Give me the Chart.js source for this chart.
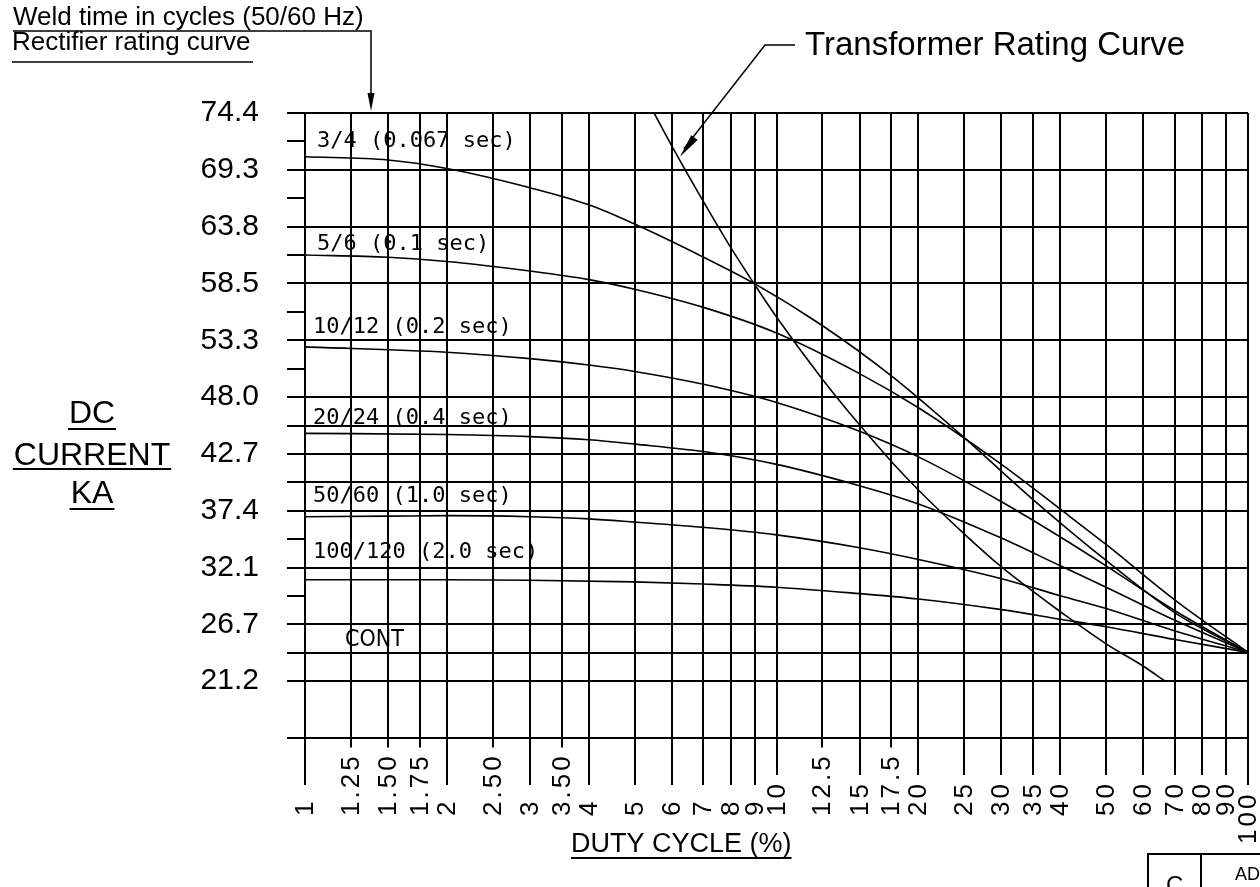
<!DOCTYPE html>
<html><head><meta charset="utf-8">
<script src="https://cdn.jsdelivr.net/npm/chart.js@4.4.0/dist/chart.umd.min.js"></script>
<style>html,body{margin:0;padding:0;background:#fff;} canvas{display:block;}</style>
</head><body>
<canvas id="c" width="1260" height="887"></canvas>
<script>
// ---- axis data ----
const xTicks = [1,1.25,1.5,1.75,2,2.5,3,3.5,4,5,6,7,8,9,10,12.5,15,17.5,20,25,30,35,40,50,60,70,80,90,100];
const xTickLabels = ['1','1.25','1.50','1.75','2','2.50','3','3.50','4','5','6','7','8','9','10','12.5','15','17.5','20','25','30','35','40','50','60','70','80','90','100'];
const yTickLabels = ['74.4','69.3','63.8','58.5','53.3','48.0','42.7','37.4','32.1','26.7','21.2'];
const yTop = 74.4;
const yHalfStep = 2.66;
const yFullMidlines = [11, 13, 19];   // half-step lines that cross the grid
const yNoTick = [21];

// ---- series (duty cycle %, DC current kA) ----
const seriesLabels = ['3/4 (0.067 sec)','5/6 (0.1 sec)','10/12 (0.2 sec)','20/24 (0.4 sec)','50/60 (1.0 sec)','100/120 (2.0 sec)'];
const duty34 = [1,1.5,2,3,4,5,7,9,12.5,17.5,25,35,50,70,100];
const amps34 = [70.3,70.0,69.2,67.4,65.8,64.0,60.9,58.4,54.5,49.8,44.0,38.2,32.5,27.6,23.9];
const duty56 = [1,1.5,2,3,4,5,7,10,15,20,30,40,50,70,100];
const amps56 = [61.1,60.9,60.5,59.6,58.8,57.9,56.2,53.8,50.0,46.8,41.5,37.3,34.0,28.8,23.9];
const duty1012 = [1,2,3,4,5,7,10,15,20,30,40,50,70,100];
const amps1012 = [52.5,52.0,51.4,50.8,50.2,49.0,47.3,44.6,42.2,38.0,34.7,32.0,27.8,23.9];
const duty2024 = [1,2,3,4,5,7,10,15,20,30,40,50,70,100];
const amps2024 = [44.4,44.3,44.1,43.8,43.4,42.7,41.5,39.5,37.8,34.6,32.0,30.0,26.9,23.9];
const duty5060 = [1,1.5,2,3,4,5,7,10,15,20,30,40,50,70,100];
const amps5060 = [36.6,36.65,36.7,36.6,36.4,36.1,35.6,34.9,33.7,32.6,30.8,29.2,28.0,25.9,23.9];
const duty100120 = [1,2,3,5,7,10,15,20,30,40,50,70,100];
const amps100120 = [30.7,30.7,30.65,30.5,30.3,30.0,29.4,28.9,27.9,27.0,26.3,25.1,23.9];
const dutyTR = [5.5,6,7,8,9,10,12.5,15,17.5,20,25,30,35,40,50,60,66.7];
const ampsTR = [74.4,71.3,66.1,61.8,58.3,55.3,49.5,45.2,41.8,39.1,35.0,31.9,29.6,27.7,24.7,22.6,21.2];

const ink = '#000';
const yBottom = yTop - 22 * yHalfStep;
const kOf = v => Math.round((yTop - v) / yHalfStep);
const pts = (d, a) => d.map((x, i) => ({x, y: a[i]}));

const curves = [[duty34,amps34],[duty56,amps56],[duty1012,amps1012],[duty2024,amps2024],[duty5060,amps5060],[duty100120,amps100120],[dutyTR,ampsTR]];
const datasets = curves.map((c, i) => ({
  label: i < seriesLabels.length ? seriesLabels[i] : 'Transformer Rating Curve',
  data: pts(c[0], c[1]),
  borderColor: ink, borderWidth: 1.6, pointRadius: 0, fill: false,
  cubicInterpolationMode: 'monotone'
}));

const sans = '"Liberation Sans", Arial, sans-serif';
function underline(ctx, x1, x2, y) {
  ctx.beginPath(); ctx.moveTo(x1, y); ctx.lineTo(x2, y); ctx.stroke();
}
function arrowHead(ctx, fx, fy, tx, ty, len, half) {
  const a = Math.atan2(ty - fy, tx - fx);
  ctx.beginPath();
  ctx.moveTo(tx, ty);
  ctx.lineTo(tx - len * Math.cos(a) + half * Math.sin(a), ty - len * Math.sin(a) - half * Math.cos(a));
  ctx.lineTo(tx - len * Math.cos(a) - half * Math.sin(a), ty - len * Math.sin(a) + half * Math.cos(a));
  ctx.closePath(); ctx.fill();
}

const overlay = {
  id: 'overlay',
  afterDraw(chart) {
    const ctx = chart.ctx, xs = chart.scales.x, ys = chart.scales.y, area = chart.chartArea;
    ctx.save();
    ctx.fillStyle = ink; ctx.strokeStyle = ink; ctx.lineWidth = 2;

    // x tick labels (rotated, reading upward)
    ctx.font = '26px ' + sans;
    ctx.letterSpacing = '3px';
    xTicks.forEach((v, i) => {
      const base = i === xTicks.length - 1 ? 844 : 816;
      const px = Math.round(xs.getPixelForValue(v));
      const w = ctx.measureText(xTickLabels[i]).width;
      const end = Math.min(785, base - w - 6);
      ctx.beginPath(); ctx.moveTo(px, area.bottom); ctx.lineTo(px, end); ctx.stroke();
      ctx.save(); ctx.translate(px, base); ctx.rotate(-Math.PI / 2);
      ctx.textAlign = 'left'; ctx.textBaseline = 'middle';
      ctx.fillText(xTickLabels[i], 0, 1);
      ctx.restore();
    });
    ctx.letterSpacing = '0px';

    // curve labels
    ctx.textAlign = 'left'; ctx.textBaseline = 'alphabetic';
    ctx.font = '22px "DejaVu Sans Mono", monospace';
    const lx = area.left + 10;
    const labelY = [147, 250, 333, 424, 502, 558];
    seriesLabels.forEach((t, i) => ctx.fillText(t, lx + 2 - (i > 1 ? 4 : 0), labelY[i]));
    ctx.font = '23px "Liberation Sans Narrow", "DejaVu Sans Condensed", sans-serif';
    ctx.fillText('CONT', 345, 646);

    // header texts
    ctx.font = '26px ' + sans;
    ctx.fillText('Weld time in cycles (50/60 Hz)', 13, 25);
    ctx.fillText('Rectifier rating curve', 12, 50);
    ctx.lineWidth = 1.5;
    ctx.beginPath(); ctx.moveTo(13, 31); ctx.lineTo(371, 31); ctx.lineTo(371, 96); ctx.stroke();
    arrowHead(ctx, 371, 31, 371, 111, 18, 3.5);
    underline(ctx, 12, 253, 62);

    // transformer label + leader arrow
    ctx.font = '33px ' + sans;
    ctx.fillText('Transformer Rating Curve', 805, 55);
    const tipX = xs.getPixelForValue(6.24), tipY = ys.getPixelForValue(70.3);
    ctx.beginPath(); ctx.moveTo(795, 45); ctx.lineTo(765, 45); ctx.lineTo(tipX + 4, tipY - 8); ctx.stroke();
    arrowHead(ctx, 765, 45, tipX, tipY, 24, 4);

    // y title
    ctx.font = '32px ' + sans; ctx.textAlign = 'center'; ctx.lineWidth = 2;
    const tx = 92;
    [['DC', 423, 429], ['CURRENT', 465, 469], ['KA', 503, 509]].forEach(([t, b, u]) => {
      ctx.fillText(t, tx, b);
      const w = ctx.measureText(t).width;
      underline(ctx, tx - w / 2 - 1, tx + w / 2 + 1, u);
    });

    // x title
    ctx.font = '27px ' + sans; ctx.textAlign = 'left';
    ctx.fillText('DUTY CYCLE (%)', 571, 852);
    const tw = ctx.measureText('DUTY CYCLE (%)').width;
    underline(ctx, 571, 571 + tw, 858);

    // title block corner
    ctx.lineWidth = 2;
    ctx.beginPath();
    ctx.moveTo(1148, 887); ctx.lineTo(1148, 854); ctx.lineTo(1260, 854);
    ctx.moveTo(1201, 854); ctx.lineTo(1201, 887);
    ctx.stroke();
    ctx.font = '24px ' + sans;
    ctx.fillText('C', 1166, 893);
    ctx.font = '18px ' + sans;
    ctx.fillText('AD', 1235, 880);
    ctx.restore();
  }
};

new Chart(document.getElementById('c'), {
  type: 'line',
  data: { datasets },
  options: {
    responsive: false, animation: false, devicePixelRatio: 1,
    layout: { padding: { top: 113, right: 12, left: 0, bottom: 0 } },
    plugins: { legend: { display: false }, tooltip: { enabled: false } },
    scales: {
      x: {
        type: 'logarithmic', min: 1, max: 100,
        afterBuildTicks: s => { s.ticks = xTicks.map(v => ({ value: v })); },
        afterFit: s => { s.height = 149; },
        ticks: { display: false, autoSkip: false },
        grid: { color: ink, lineWidth: 2, drawTicks: false },
        border: { display: false }
      },
      y: {
        type: 'linear', min: yBottom, max: yTop,
        afterBuildTicks: s => {
          const t = [];
          for (let k = 22; k >= 0; k--) t.push({ value: yTop - k * yHalfStep });
          s.ticks = t;
        },
        afterFit: s => { s.width = 305; },
        ticks: {
          autoSkip: false, padding: 28, color: ink,
          font: { family: sans, size: 30 },
          callback: v => { const k = kOf(v); return (k % 2 === 0 && k / 2 < yTickLabels.length) ? yTickLabels[k / 2] : ''; }
        },
        grid: {
          lineWidth: 2, tickLength: 18, drawTicks: true,
          color: c => { const k = kOf(c.tick.value); return (k % 2 === 0 || yFullMidlines.includes(k)) ? ink : 'rgba(0,0,0,0)'; },
          tickColor: c => yNoTick.includes(kOf(c.tick.value)) ? 'rgba(0,0,0,0)' : ink
        },
        border: { display: false }
      }
    }
  },
  plugins: [overlay]
});
</script>
</body></html>
